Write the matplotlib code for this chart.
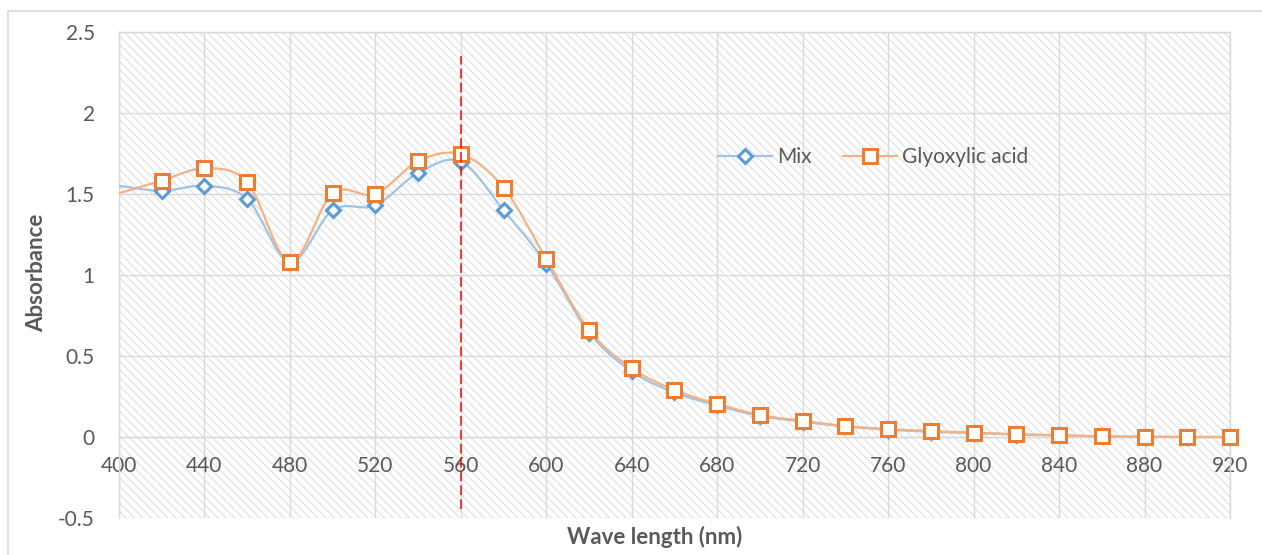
import numpy as np
import matplotlib
matplotlib.use("Agg")
import matplotlib.pyplot as plt
from matplotlib.lines import Line2D
from matplotlib.patches import Rectangle

plt.rcParams['font.family'] = ['Lato', 'DejaVu Sans']
plt.rcParams['hatch.color'] = '#e0e0e0'
plt.rcParams['hatch.linewidth'] = 0.8
plt.rcParams['lines.scale_dashes'] = False

# ---- data ----
wavelength = [400, 420, 440, 460, 480, 500, 520, 540, 560, 580, 600, 620, 640, 660,
              680, 700, 720, 740, 760, 780, 800, 820, 840, 860, 880, 900, 920]
mix = [1.55, 1.52, 1.55, 1.47, 1.08, 1.40, 1.43, 1.63, 1.70, 1.40, 1.07, 0.645, 0.405,
       0.275, 0.195, 0.13, 0.095, 0.065, 0.045, 0.033, 0.024, 0.015, 0.01, 0.004, 0.002, 0.0, 0.0]
glyoxylic = [1.505, 1.582, 1.658, 1.572, 1.082, 1.504, 1.50, 1.702, 1.745, 1.539, 1.099, 0.66,
             0.424, 0.29, 0.204, 0.136, 0.099, 0.068, 0.049, 0.037, 0.027, 0.017, 0.012,
             0.004, 0.002, 0.0, 0.0]
series_names = ["Mix", "Glyoxylic acid"]
x_ticks = list(range(400, 921, 40))
y_ticks = [-0.5, 0, 0.5, 1, 1.5, 2, 2.5]
marker_line = 560
x_label = "Wave length (nm)"
y_label = "Absorbance"


def smooth(x, y, n=20):
    x = np.asarray(x, float)
    y = np.asarray(y, float)
    px = np.concatenate([[2 * x[0] - x[1]], x, [2 * x[-1] - x[-2]]])
    py = np.concatenate([[2 * y[0] - y[1]], y, [2 * y[-1] - y[-2]]])
    xs, ys = [], []
    t = np.linspace(0, 1, n, endpoint=False)
    for i in range(1, len(px) - 2):
        p0, p1, p2, p3 = i - 1, i, i + 1, i + 2
        for arr_p, out in ((px, xs), (py, ys)):
            a, b, c, d = arr_p[p0], arr_p[p1], arr_p[p2], arr_p[p3]
            c1 = b + (c - a) / 6.0
            c2 = c - (d - b) / 6.0
            out.extend((1 - t) ** 3 * b + 3 * (1 - t) ** 2 * t * c1 + 3 * (1 - t) * t ** 2 * c2 + t ** 3 * c)
    xs.append(x[-1]); ys.append(y[-1])
    return np.array(xs), np.array(ys)


W, H, DPI = 1262, 555, 100
fig = plt.figure(figsize=(W / DPI, H / DPI), dpi=DPI)

# chart area border
fig.patches.append(Rectangle((8 / W, -0.1), 1.2, 1 - 11 / H + 0.1, transform=fig.transFigure,
                             fill=False, edgecolor='#d9d9d9', linewidth=1.2))

ax = fig.add_axes([119 / W, 1 - 518 / H, (1230 - 119) / W, (518 - 32) / H])
ax.set_xlim(400, 920)
ax.set_ylim(-0.5, 2.5)
ax.add_patch(Rectangle((0, 0), 1, 1, transform=ax.transAxes, facecolor='white',
                       edgecolor='#e0e0e0', hatch='\\\\\\\\', linewidth=0, zorder=0))

ax.set_xticks(x_ticks)
ax.set_yticks(y_ticks)
ax.set_yticklabels([f"{v:g}" for v in y_ticks])
ax.grid(True, color='#d9d9d9', linewidth=1.0, zorder=1)
ax.set_axisbelow(True)
for s in ax.spines.values():
    s.set_color('#d9d9d9')
    s.set_linewidth(1.0)
ax.spines['bottom'].set_position(('data', 0))
ax.tick_params(length=0, labelsize=15, labelcolor='#595959')
ax.tick_params(axis='x', pad=14)
ax.tick_params(axis='y', pad=17.5)

colors_line = ['#9dc3e6', '#f4b183']
colors_mark = ['#5b9bd5', '#ed7d31']
markers = ['D', 's']
msizes = [7, 10.5]
handles = []
for i, ys in enumerate([mix, glyoxylic]):
    sx, sy = smooth(wavelength, ys)
    ax.plot(sx, sy, color=colors_line[i], linewidth=1.6, zorder=3 + 2 * i, solid_capstyle='round')
    ax.plot(wavelength[1:], ys[1:], linestyle='none', marker=markers[i], markersize=msizes[i],
            markerfacecolor='white', markeredgecolor=colors_mark[i], markeredgewidth=2.2,
            zorder=4 + 2 * i, clip_on=False)
    handles.append(Line2D([], [], color=colors_line[i], linewidth=1.6, marker=markers[i],
                          markersize=msizes[i], markerfacecolor='white',
                          markeredgecolor=colors_mark[i], markeredgewidth=2.2))

ax.plot([marker_line, marker_line], [-0.445, 2.35], color='#ff0000', linewidth=1.1,
        dashes=(7, 3), zorder=10)

leg = ax.legend(handles, series_names, loc='center left', bbox_to_anchor=(718 / W, 1 - 157 / H),
                bbox_transform=fig.transFigure, ncol=2, frameon=False, fontsize=15,
                handlelength=2.6, handletextpad=0.25, columnspacing=1.5, borderaxespad=0,
                borderpad=0)
for t in leg.get_texts():
    t.set_color('#595959')

fig.text(655 / W, 1 - 537 / H, x_label, ha='center', va='center', fontsize=16,
         fontweight='bold', color='#595959')
fig.text(37 / W, 1 - 273 / H, y_label, ha='center', va='center', rotation=90, fontsize=16,
         fontweight='bold', color='#595959')

fig.savefig("out.png", dpi=DPI)
